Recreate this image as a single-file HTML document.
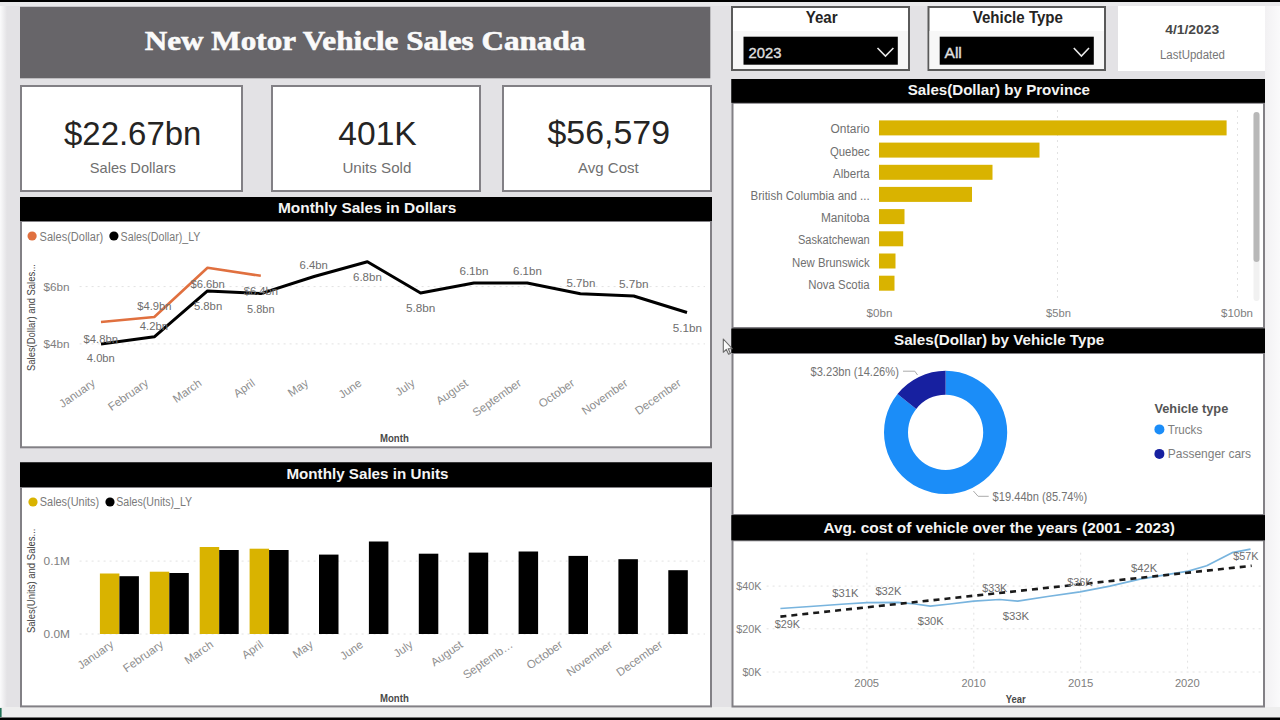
<!DOCTYPE html>
<html><head><meta charset="utf-8"><title>New Motor Vehicle Sales Canada</title>
<style>html,body{margin:0;padding:0;width:1280px;height:720px;overflow:hidden;background:#e3e2e5}
</style></head><body>
<svg width="1280" height="720" viewBox="0 0 1280 720" style="position:absolute;left:0;top:0;font-family:'Liberation Sans',sans-serif">
<defs><linearGradient id="lg" x1="0" x2="1"><stop offset="0" stop-color="#fbfbfc"/><stop offset="1" stop-color="#e3e2e5"/></linearGradient><linearGradient id="rg" x1="0" x2="1"><stop offset="0" stop-color="#f2f1f3"/><stop offset="1" stop-color="#fafafb"/></linearGradient></defs>
<rect x="0" y="0" width="1280" height="720" fill="#e3e2e5"/>
<rect x="0" y="0" width="7" height="720" fill="url(#lg)"/>
<rect x="1265" y="0" width="15" height="720" fill="url(#rg)"/>
<rect x="0" y="707" width="1280" height="11" fill="#eeeeee"/>
<rect x="0" y="708" width="1.6" height="9" fill="#1f6f55"/>
<rect x="0" y="2" width="1280" height="4" fill="#e9e9eb"/>
<rect x="0" y="0" width="1280" height="2" fill="#000"/>
<rect x="0" y="717.5" width="1280" height="2.5" fill="#000"/>
<rect x="20" y="6.8" width="690.3" height="71.5" fill="#676569"/>
<text x="144.8" y="49.6" font-size="27.8" fill="#fafafa" font-weight="bold" textLength="440.5" lengthAdjust="spacingAndGlyphs" font-family="'Liberation Serif',serif" stroke="#fafafa" stroke-width="0.6">New Motor Vehicle Sales Canada</text>
<rect x="21.0" y="86.0" width="221" height="105" fill="#fff" stroke="#828085" stroke-width="2"/>
<rect x="272.0" y="86.0" width="208" height="105" fill="#fff" stroke="#828085" stroke-width="2"/>
<rect x="503.0" y="86.0" width="208" height="105" fill="#fff" stroke="#828085" stroke-width="2"/>
<text x="64.0" y="144.5" font-size="33" fill="#252423" textLength="137.4" lengthAdjust="spacingAndGlyphs">$22.67bn</text>
<text x="338.3" y="144.9" font-size="33" fill="#252423" textLength="78.5" lengthAdjust="spacingAndGlyphs">401K</text>
<text x="547.5" y="144.4" font-size="33" fill="#252423" textLength="122.5" lengthAdjust="spacingAndGlyphs">$56,579</text>
<text x="89.8" y="173.4" font-size="15" fill="#707070" textLength="86.0" lengthAdjust="spacingAndGlyphs">Sales Dollars</text>
<text x="342.4" y="173.4" font-size="15" fill="#707070" textLength="69.0" lengthAdjust="spacingAndGlyphs">Units Sold</text>
<text x="578.0" y="173.1" font-size="15" fill="#707070" textLength="60.7" lengthAdjust="spacingAndGlyphs">Avg Cost</text>
<rect x="732.0" y="7.0" width="177" height="63" fill="#fff" stroke="#5a5a5a" stroke-width="2"/>
<rect x="733" y="31" width="175" height="38" fill="#f7f7f7"/>
<text x="805.7" y="22.9" font-size="16.5" fill="#252423" font-weight="bold" textLength="31.9" lengthAdjust="spacingAndGlyphs">Year</text>
<rect x="743.5" y="36.7" width="154.29999999999995" height="28" fill="#000"/>
<text x="748.6" y="58.0" font-size="15.5" fill="#e0e0e0" textLength="32.8" lengthAdjust="spacingAndGlyphs" stroke="#e0e0e0" stroke-width="0.35">2023</text>
<polyline points="877.5,48 885.45,56 893.4,48" fill="none" stroke="#e8e8e8" stroke-width="1.6"/>
<rect x="928.5" y="7.0" width="176.5" height="63" fill="#fff" stroke="#5a5a5a" stroke-width="2"/>
<rect x="929.5" y="31" width="174.5" height="38" fill="#f7f7f7"/>
<text x="972.7" y="22.9" font-size="16.5" fill="#252423" font-weight="bold" textLength="90.3" lengthAdjust="spacingAndGlyphs">Vehicle Type</text>
<rect x="939.7" y="36.7" width="154.0999999999999" height="28" fill="#000"/>
<text x="944.5" y="58.0" font-size="15.5" fill="#e0e0e0" textLength="17.3" lengthAdjust="spacingAndGlyphs" stroke="#e0e0e0" stroke-width="0.35">All</text>
<polyline points="1073.8,48 1081.4,56 1089,48" fill="none" stroke="#e8e8e8" stroke-width="1.6"/>
<rect x="1118" y="6" width="147" height="65" fill="#fff"/>
<text x="1165.2" y="34.4" font-size="13" fill="#474747" font-weight="bold" textLength="54.0" lengthAdjust="spacingAndGlyphs">4/1/2023</text>
<text x="1160.0" y="59.4" font-size="12" fill="#777" textLength="65.0" lengthAdjust="spacingAndGlyphs">LastUpdated</text>
<rect x="20" y="197" width="692" height="24" fill="#000"/>
<rect x="21" y="221" width="690" height="226.3" fill="#fff" stroke="#828085" stroke-width="2"/>
<rect x="20" y="197" width="692" height="24" fill="#000"/>
<text x="278.0" y="213.0" font-size="15.5" fill="#f4f4f4" font-weight="bold" textLength="178.4" lengthAdjust="spacingAndGlyphs">Monthly Sales in Dollars</text>
<rect x="20" y="462.5" width="692" height="24.5" fill="#000"/>
<rect x="21" y="487" width="690" height="219.39999999999998" fill="#fff" stroke="#828085" stroke-width="2"/>
<rect x="20" y="462.5" width="692" height="24.5" fill="#000"/>
<text x="286.4" y="478.6" font-size="15.5" fill="#f4f4f4" font-weight="bold" textLength="162.0" lengthAdjust="spacingAndGlyphs">Monthly Sales in Units</text>
<rect x="731.5" y="79" width="533.5" height="23.799999999999997" fill="#000"/>
<rect x="732.5" y="102.8" width="531.5" height="225.2" fill="#fff" stroke="#828085" stroke-width="2"/>
<rect x="731.5" y="79" width="533.5" height="23.799999999999997" fill="#000"/>
<text x="907.7" y="95.0" font-size="15.5" fill="#f4f4f4" font-weight="bold" textLength="182.3" lengthAdjust="spacingAndGlyphs">Sales(Dollar) by Province</text>
<rect x="731.5" y="328.7" width="533.5" height="24.30000000000001" fill="#000"/>
<rect x="732.5" y="353" width="531.5" height="162" fill="#fff" stroke="#828085" stroke-width="2"/>
<rect x="731.5" y="328.7" width="533.5" height="24.30000000000001" fill="#000"/>
<text x="894.0" y="344.7" font-size="15.5" fill="#f4f4f4" font-weight="bold" textLength="210.2" lengthAdjust="spacingAndGlyphs">Sales(Dollar) by Vehicle Type</text>
<rect x="731.5" y="515.3" width="533.5" height="25.0" fill="#000"/>
<rect x="732.5" y="540.3" width="531.5" height="166.20000000000005" fill="#fff" stroke="#828085" stroke-width="2"/>
<rect x="731.5" y="515.3" width="533.5" height="25.0" fill="#000"/>
<text x="823.4" y="533.1" font-size="15.5" fill="#f4f4f4" font-weight="bold" textLength="351.6" lengthAdjust="spacingAndGlyphs">Avg. cost of vehicle over the years (2001 - 2023)</text>
<circle cx="32.1" cy="236" r="4.6" fill="#e0703f"/>
<text x="39.6" y="240.5" font-size="12" fill="#7a7a7a" textLength="63.7" lengthAdjust="spacingAndGlyphs">Sales(Dollar)</text>
<circle cx="113.9" cy="236" r="4.6" fill="#000"/>
<text x="120.6" y="240.5" font-size="12" fill="#7a7a7a" textLength="79.9" lengthAdjust="spacingAndGlyphs">Sales(Dollar)_LY</text>
<text x="0" y="0" font-size="10.5" fill="#444" textLength="107" lengthAdjust="spacingAndGlyphs" transform="translate(35,371) rotate(-90)">Sales(Dollar) and Sales...</text>
<line x1="79.6" y1="286.6" x2="705" y2="286.6" stroke="#e2e2e2" stroke-width="1" stroke-dasharray="2,4"/>
<line x1="79.6" y1="343.9" x2="705" y2="343.9" stroke="#e2e2e2" stroke-width="1" stroke-dasharray="2,4"/>
<text x="43.5" y="291.1" font-size="11.5" fill="#7e7e7e" textLength="26.1" lengthAdjust="spacingAndGlyphs">$6bn</text>
<text x="43.5" y="348.0" font-size="11.5" fill="#7e7e7e" textLength="26.1" lengthAdjust="spacingAndGlyphs">$4bn</text>
<polyline points="101.0,343.9 154.3,336.8 207.5,290.9 260.8,293.6 314.1,276.5 367.4,261.8 420.6,293.0 473.9,283.0 527.2,283.0 580.4,293.7 633.7,296.0 687.0,312.5" fill="none" stroke="#000" stroke-width="3" stroke-linejoin="round"/>
<polyline points="101.0,322.0 154.3,317.0 207.5,267.8 260.8,275.8" fill="none" stroke="#e0703f" stroke-width="2.6" stroke-linejoin="round"/>
<text x="83.5" y="342.5" font-size="11.5" fill="#6e6e6e" textLength="34.5" lengthAdjust="spacingAndGlyphs">$4.8bn</text>
<text x="86.8" y="362.4" font-size="11.5" fill="#6e6e6e" textLength="28.0" lengthAdjust="spacingAndGlyphs">4.0bn</text>
<text x="137.2" y="309.9" font-size="11.5" fill="#6e6e6e" textLength="34.3" lengthAdjust="spacingAndGlyphs">$4.9bn</text>
<text x="139.8" y="329.7" font-size="11.5" fill="#6e6e6e" textLength="28.2" lengthAdjust="spacingAndGlyphs">4.2bn</text>
<text x="190.4" y="287.6" font-size="11.5" fill="#6e6e6e" textLength="34.4" lengthAdjust="spacingAndGlyphs">$6.6bn</text>
<text x="193.9" y="309.9" font-size="11.5" fill="#6e6e6e" textLength="28.3" lengthAdjust="spacingAndGlyphs">5.8bn</text>
<text x="243.7" y="295.3" font-size="11.5" fill="#6e6e6e" textLength="34.3" lengthAdjust="spacingAndGlyphs">$6.4bn</text>
<text x="247.1" y="313.0" font-size="11.5" fill="#6e6e6e" textLength="27.5" lengthAdjust="spacingAndGlyphs">5.8bn</text>
<text x="299.6" y="268.7" font-size="11.5" fill="#6e6e6e" textLength="28.3" lengthAdjust="spacingAndGlyphs">6.4bn</text>
<text x="353.0" y="281.4" font-size="11.5" fill="#6e6e6e" textLength="28.8" lengthAdjust="spacingAndGlyphs">6.8bn</text>
<text x="406.0" y="312.4" font-size="11.5" fill="#6e6e6e" textLength="29.4" lengthAdjust="spacingAndGlyphs">5.8bn</text>
<text x="459.4" y="275.0" font-size="11.5" fill="#6e6e6e" textLength="29.2" lengthAdjust="spacingAndGlyphs">6.1bn</text>
<text x="513.0" y="275.0" font-size="11.5" fill="#6e6e6e" textLength="28.8" lengthAdjust="spacingAndGlyphs">6.1bn</text>
<text x="566.5" y="287.0" font-size="11.5" fill="#6e6e6e" textLength="28.8" lengthAdjust="spacingAndGlyphs">5.7bn</text>
<text x="619.0" y="287.7" font-size="11.5" fill="#6e6e6e" textLength="29.5" lengthAdjust="spacingAndGlyphs">5.7bn</text>
<text x="672.8" y="331.6" font-size="11.5" fill="#6e6e6e" textLength="29.2" lengthAdjust="spacingAndGlyphs">5.1bn</text>
<text x="0" y="0" font-size="11.5" fill="#8e8e8e" text-anchor="end" transform="translate(96.0,384.8) rotate(-35)">January</text>
<text x="0" y="0" font-size="11.5" fill="#8e8e8e" text-anchor="end" transform="translate(149.3,384.8) rotate(-35)">February</text>
<text x="0" y="0" font-size="11.5" fill="#8e8e8e" text-anchor="end" transform="translate(202.5,384.8) rotate(-35)">March</text>
<text x="0" y="0" font-size="11.5" fill="#8e8e8e" text-anchor="end" transform="translate(255.8,384.8) rotate(-35)">April</text>
<text x="0" y="0" font-size="11.5" fill="#8e8e8e" text-anchor="end" transform="translate(309.1,384.8) rotate(-35)">May</text>
<text x="0" y="0" font-size="11.5" fill="#8e8e8e" text-anchor="end" transform="translate(362.4,384.8) rotate(-35)">June</text>
<text x="0" y="0" font-size="11.5" fill="#8e8e8e" text-anchor="end" transform="translate(415.6,384.8) rotate(-35)">July</text>
<text x="0" y="0" font-size="11.5" fill="#8e8e8e" text-anchor="end" transform="translate(468.9,384.8) rotate(-35)">August</text>
<text x="0" y="0" font-size="11.5" fill="#8e8e8e" text-anchor="end" transform="translate(522.2,384.8) rotate(-35)">September</text>
<text x="0" y="0" font-size="11.5" fill="#8e8e8e" text-anchor="end" transform="translate(575.4,384.8) rotate(-35)">October</text>
<text x="0" y="0" font-size="11.5" fill="#8e8e8e" text-anchor="end" transform="translate(628.7,384.8) rotate(-35)">November</text>
<text x="0" y="0" font-size="11.5" fill="#8e8e8e" text-anchor="end" transform="translate(682.0,384.8) rotate(-35)">December</text>
<text x="380.0" y="441.7" font-size="10.5" fill="#4a4a4a" font-weight="bold" textLength="28.8" lengthAdjust="spacingAndGlyphs">Month</text>
<circle cx="33" cy="502" r="4.6" fill="#d9b300"/>
<text x="39.8" y="506.3" font-size="12" fill="#7a7a7a" textLength="59.4" lengthAdjust="spacingAndGlyphs">Sales(Units)</text>
<circle cx="110" cy="502" r="4.6" fill="#000"/>
<text x="116.3" y="506.3" font-size="12" fill="#7a7a7a" textLength="75.8" lengthAdjust="spacingAndGlyphs">Sales(Units)_LY</text>
<text x="0" y="0" font-size="10.5" fill="#444" textLength="104.6" lengthAdjust="spacingAndGlyphs" transform="translate(34.6,633.1) rotate(-90)">Sales(Units) and Sales...</text>
<line x1="79.6" y1="561.1" x2="705" y2="561.1" stroke="#e2e2e2" stroke-width="1" stroke-dasharray="2,4"/>
<line x1="79.6" y1="634" x2="705" y2="634" stroke="#e2e2e2" stroke-width="1" stroke-dasharray="2,4"/>
<text x="43.6" y="565.2" font-size="11.5" fill="#7e7e7e" textLength="26.4" lengthAdjust="spacingAndGlyphs">0.1M</text>
<text x="43.6" y="638.3" font-size="11.5" fill="#7e7e7e" textLength="26.4" lengthAdjust="spacingAndGlyphs">0.0M</text>
<rect x="99.9" y="573.5" width="19.5" height="60.5" fill="#d9b300"/>
<rect x="149.8" y="571.7" width="19.5" height="62.3" fill="#d9b300"/>
<rect x="199.7" y="547" width="19.5" height="87.0" fill="#d9b300"/>
<rect x="249.6" y="548.7" width="19.5" height="85.3" fill="#d9b300"/>
<rect x="119.4" y="576.2" width="19.5" height="57.8" fill="#000"/>
<rect x="169.3" y="573" width="19.5" height="61.0" fill="#000"/>
<rect x="219.2" y="550" width="19.5" height="84.0" fill="#000"/>
<rect x="269.1" y="550" width="19.5" height="84.0" fill="#000"/>
<rect x="319.0" y="554.6" width="19.5" height="79.4" fill="#000"/>
<rect x="368.9" y="541.5" width="19.5" height="92.5" fill="#000"/>
<rect x="418.8" y="553.7" width="19.5" height="80.3" fill="#000"/>
<rect x="468.7" y="552.6" width="19.5" height="81.4" fill="#000"/>
<rect x="518.6" y="551.5" width="19.5" height="82.5" fill="#000"/>
<rect x="568.5" y="555.9" width="19.5" height="78.1" fill="#000"/>
<rect x="618.4" y="559.2" width="19.5" height="74.8" fill="#000"/>
<rect x="668.3" y="570.2" width="19.5" height="63.8" fill="#000"/>
<text x="0" y="0" font-size="11.5" fill="#8e8e8e" text-anchor="end" transform="translate(114.4,646.3) rotate(-35)">January</text>
<text x="0" y="0" font-size="11.5" fill="#8e8e8e" text-anchor="end" transform="translate(164.3,646.3) rotate(-35)">February</text>
<text x="0" y="0" font-size="11.5" fill="#8e8e8e" text-anchor="end" transform="translate(214.2,646.3) rotate(-35)">March</text>
<text x="0" y="0" font-size="11.5" fill="#8e8e8e" text-anchor="end" transform="translate(264.1,646.3) rotate(-35)">April</text>
<text x="0" y="0" font-size="11.5" fill="#8e8e8e" text-anchor="end" transform="translate(314.0,646.3) rotate(-35)">May</text>
<text x="0" y="0" font-size="11.5" fill="#8e8e8e" text-anchor="end" transform="translate(363.9,646.3) rotate(-35)">June</text>
<text x="0" y="0" font-size="11.5" fill="#8e8e8e" text-anchor="end" transform="translate(413.8,646.3) rotate(-35)">July</text>
<text x="0" y="0" font-size="11.5" fill="#8e8e8e" text-anchor="end" transform="translate(463.7,646.3) rotate(-35)">August</text>
<text x="0" y="0" font-size="11.5" fill="#8e8e8e" text-anchor="end" transform="translate(513.6,646.3) rotate(-35)">Septemb…</text>
<text x="0" y="0" font-size="11.5" fill="#8e8e8e" text-anchor="end" transform="translate(563.5,646.3) rotate(-35)">October</text>
<text x="0" y="0" font-size="11.5" fill="#8e8e8e" text-anchor="end" transform="translate(613.4,646.3) rotate(-35)">November</text>
<text x="0" y="0" font-size="11.5" fill="#8e8e8e" text-anchor="end" transform="translate(663.3,646.3) rotate(-35)">December</text>
<text x="380.0" y="701.6" font-size="10.5" fill="#4a4a4a" font-weight="bold" textLength="28.8" lengthAdjust="spacingAndGlyphs">Month</text>
<line x1="1057.5" y1="110" x2="1057.5" y2="300" stroke="#e2e2e2" stroke-width="1" stroke-dasharray="2,4"/>
<line x1="1237.5" y1="110" x2="1237.5" y2="300" stroke="#e2e2e2" stroke-width="1" stroke-dasharray="2,4"/>
<rect x="879" y="120.4" width="347.6" height="15" fill="#d9b300"/>
<text x="830.6" y="133.4" font-size="12" fill="#707070" textLength="39.1" lengthAdjust="spacingAndGlyphs">Ontario</text>
<rect x="879" y="142.6" width="160.5" height="15" fill="#d9b300"/>
<text x="830.0" y="155.6" font-size="12" fill="#707070" textLength="39.7" lengthAdjust="spacingAndGlyphs">Quebec</text>
<rect x="879" y="164.8" width="113.5" height="15" fill="#d9b300"/>
<text x="833.1" y="177.8" font-size="12" fill="#707070" textLength="36.6" lengthAdjust="spacingAndGlyphs">Alberta</text>
<rect x="879" y="186.9" width="93.0" height="15" fill="#d9b300"/>
<text x="750.6" y="200.0" font-size="12" fill="#707070" textLength="119.1" lengthAdjust="spacingAndGlyphs">British Columbia and ...</text>
<rect x="879" y="209.1" width="25.5" height="15" fill="#d9b300"/>
<text x="820.9" y="222.1" font-size="12" fill="#707070" textLength="48.8" lengthAdjust="spacingAndGlyphs">Manitoba</text>
<rect x="879" y="231.3" width="24.2" height="15" fill="#d9b300"/>
<text x="798.0" y="244.3" font-size="12" fill="#707070" textLength="71.7" lengthAdjust="spacingAndGlyphs">Saskatchewan</text>
<rect x="879" y="253.5" width="16.5" height="15" fill="#d9b300"/>
<text x="792.0" y="266.5" font-size="12" fill="#707070" textLength="77.7" lengthAdjust="spacingAndGlyphs">New Brunswick</text>
<rect x="879" y="275.7" width="15.5" height="15" fill="#d9b300"/>
<text x="808.3" y="288.7" font-size="12" fill="#707070" textLength="61.4" lengthAdjust="spacingAndGlyphs">Nova Scotia</text>
<text x="866.6" y="316.9" font-size="11.5" fill="#7e7e7e" textLength="25.8" lengthAdjust="spacingAndGlyphs">$0bn</text>
<text x="1046.0" y="316.6" font-size="11.5" fill="#7e7e7e" textLength="24.9" lengthAdjust="spacingAndGlyphs">$5bn</text>
<text x="1221.0" y="316.6" font-size="11.5" fill="#7e7e7e" textLength="32.0" lengthAdjust="spacingAndGlyphs">$10bn</text>
<rect x="1253.5" y="112" width="6" height="189" rx="3" fill="#f1f1f1"/>
<rect x="1253.5" y="112" width="6" height="150" rx="3" fill="#b8b8b8"/>
<path d="M945.60,370.80 A61.6,61.6 0 1 1 897.50,393.92 L916.24,408.91 A37.6,37.6 0 1 0 945.60,394.80 Z" fill="#1b8df8"/>
<path d="M897.50,393.92 A61.6,61.6 0 0 1 945.60,370.80 L945.60,394.80 A37.6,37.6 0 0 0 916.24,408.91 Z" fill="#1720a0"/>
<polyline points="903,371.2 914.8,371.2 917.5,375" fill="none" stroke="#aaa" stroke-width="1"/>
<text x="810.5" y="375.7" font-size="12" fill="#737373" textLength="88.4" lengthAdjust="spacingAndGlyphs">$3.23bn (14.26%)</text>
<polyline points="973.4,491 978.1,496.3 988.7,496.3" fill="none" stroke="#aaa" stroke-width="1"/>
<text x="992.6" y="501.1" font-size="12" fill="#737373" textLength="94.5" lengthAdjust="spacingAndGlyphs">$19.44bn (85.74%)</text>
<text x="1154.4" y="413.3" font-size="12.5" fill="#555" font-weight="bold" textLength="73.9" lengthAdjust="spacingAndGlyphs">Vehicle type</text>
<circle cx="1159.4" cy="429.4" r="5" fill="#1b8df8"/>
<text x="1167.8" y="434.4" font-size="13" fill="#7e7e7e" textLength="34.4" lengthAdjust="spacingAndGlyphs">Trucks</text>
<circle cx="1159.4" cy="453.9" r="5" fill="#1720a0"/>
<text x="1167.8" y="458.3" font-size="13" fill="#7e7e7e" textLength="83.3" lengthAdjust="spacingAndGlyphs">Passenger cars</text>
<line x1="766.6" y1="586.1" x2="1262" y2="586.1" stroke="#e2e2e2" stroke-width="1" stroke-dasharray="2,4"/>
<line x1="766.6" y1="628.8" x2="1262" y2="628.8" stroke="#e2e2e2" stroke-width="1" stroke-dasharray="2,4"/>
<line x1="766.6" y1="672" x2="1262" y2="672" stroke="#e2e2e2" stroke-width="1" stroke-dasharray="2,4"/>
<line x1="866.9" y1="552.7" x2="866.9" y2="672" stroke="#e2e2e2" stroke-width="1" stroke-dasharray="2,4"/>
<line x1="973.8" y1="552.7" x2="973.8" y2="672" stroke="#e2e2e2" stroke-width="1" stroke-dasharray="2,4"/>
<line x1="1080.7" y1="552.7" x2="1080.7" y2="672" stroke="#e2e2e2" stroke-width="1" stroke-dasharray="2,4"/>
<line x1="1187.6" y1="552.7" x2="1187.6" y2="672" stroke="#e2e2e2" stroke-width="1" stroke-dasharray="2,4"/>
<text x="736.2" y="590.2" font-size="11.5" fill="#7e7e7e" textLength="25.3" lengthAdjust="spacingAndGlyphs">$40K</text>
<text x="736.2" y="632.9" font-size="11.5" fill="#7e7e7e" textLength="25.3" lengthAdjust="spacingAndGlyphs">$20K</text>
<text x="742.4" y="676.0" font-size="11.5" fill="#7e7e7e" textLength="19.1" lengthAdjust="spacingAndGlyphs">$0K</text>
<text x="854.2" y="687.1" font-size="11.5" fill="#7e7e7e" textLength="24.9" lengthAdjust="spacingAndGlyphs">2005</text>
<text x="961.5" y="687.1" font-size="11.5" fill="#7e7e7e" textLength="24.2" lengthAdjust="spacingAndGlyphs">2010</text>
<text x="1068.0" y="687.1" font-size="11.5" fill="#7e7e7e" textLength="25.3" lengthAdjust="spacingAndGlyphs">2015</text>
<text x="1174.9" y="687.1" font-size="11.5" fill="#7e7e7e" textLength="24.9" lengthAdjust="spacingAndGlyphs">2020</text>
<text x="1005.7" y="702.9" font-size="10.5" fill="#4a4a4a" font-weight="bold" textLength="20.0" lengthAdjust="spacingAndGlyphs">Year</text>
<polyline points="780.4,608.5 810,606.5 845,604 866.9,602.7 898,602.3 915,604 930.3,606.2 950,604 973.7,601.1 999.5,599.5 1017.7,601.1 1047.6,596.5 1080,591.9 1109.9,586.1 1139.9,579.2 1169.8,574.1 1188.3,571.1 1206.7,565.8 1232.1,552.7 1250.5,549.2" fill="none" stroke="#78b4de" stroke-width="1.7" stroke-linejoin="round"/>
<line x1="780.4" y1="616.6" x2="1251.7" y2="565.8" stroke="#1a1a1a" stroke-width="2.6" stroke-dasharray="6,5"/>
<text x="774.7" y="627.6" font-size="11.5" fill="#6e6e6e" textLength="25.3" lengthAdjust="spacingAndGlyphs">$29K</text>
<text x="832.3" y="596.7" font-size="11.5" fill="#6e6e6e" textLength="26.1" lengthAdjust="spacingAndGlyphs">$31K</text>
<text x="875.4" y="594.8" font-size="11.5" fill="#6e6e6e" textLength="26.1" lengthAdjust="spacingAndGlyphs">$32K</text>
<text x="917.7" y="624.8" font-size="11.5" fill="#6e6e6e" textLength="26.0" lengthAdjust="spacingAndGlyphs">$30K</text>
<text x="982.2" y="592.3" font-size="11.5" fill="#6e6e6e" textLength="25.1" lengthAdjust="spacingAndGlyphs">$33K</text>
<text x="1002.7" y="619.7" font-size="11.5" fill="#6e6e6e" textLength="26.5" lengthAdjust="spacingAndGlyphs">$33K</text>
<text x="1067.2" y="586.1" font-size="11.5" fill="#6e6e6e" textLength="25.4" lengthAdjust="spacingAndGlyphs">$36K</text>
<text x="1131.1" y="572.2" font-size="11.5" fill="#6e6e6e" textLength="26.1" lengthAdjust="spacingAndGlyphs">$42K</text>
<text x="1233.3" y="559.8" font-size="11.5" fill="#6e6e6e" textLength="25.3" lengthAdjust="spacingAndGlyphs">$57K</text>
<path d="M723.3,339 L723.3,352.3 L726.3,349.4 L728.6,354.2 L730.4,353.4 L728.2,348.7 L732.2,348.7 Z" fill="#fafafa" stroke="#6a6a6a" stroke-width="1.1" stroke-linejoin="round"/>
</svg>
</body></html>
